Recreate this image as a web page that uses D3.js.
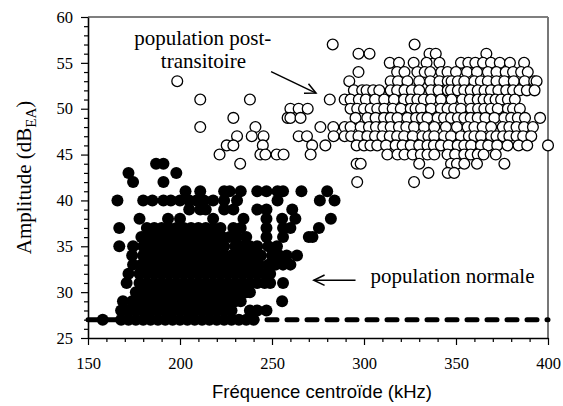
<!DOCTYPE html>
<html>
<head>
<meta charset="utf-8">
<script src="https://cdn.jsdelivr.net/npm/d3@7"></script>
<style>
  html, body { margin: 0; padding: 0; background: #fff; }
  svg { display: block; font-family: "Liberation Serif", "Times New Roman", serif; }
</style>
</head>
<body>
<svg id="chart" width="563" height="406"></svg>
<script>
// Axis ranges and tick values
const xDomain = [150, 400];
const yDomain = [25, 60];
const xMajorTicks = [150, 200, 250, 300, 350, 400];
const yMajorTicks = [25, 30, 35, 40, 45, 50, 55, 60];

// Normal population: [centroid frequency (kHz), amplitude (dB EA)]
const normale = [
  [158,27],[168,27],[172,27],[176,27],[180,27],[184,27],[188,27],[192,27],[196,27],[200,27],[204,27],[208,27],[212,27],[216,27],[220,27],[224,27],[228,27],[232,27],[236,27],[240,27],
  [168,28],[172,28],[176,28],[180,28],[184,28],[188,28],[192,28],[196,28],[200,28],[204,28],[208,28],[212,28],[216,28],[220,28],[224,28],[228,28],[238,28],[242,28],[247,28],
  [169,29],[174,29],[178,29],[182,29],[186,29],[190,29],[194,29],[198,29],[202,29],[206,29],[210,29],[214,29],[218,29],[222,29],[226,29],[230,29],[233,29],[255.5,29],
  [176,30],[180,30],[184,30],[188,30],[192,30],[196,30],[200,30],[204,30],[208,30],[212,30],[216,30],[220,30],[224,30],[228,30],[232,30],[236,30],[238,30],
  [171,31],[178,31],[182,31],[186,31],[190,31],[194,31],[198,31],[202,31],[206,31],[210,31],[214,31],[218,31],[222,31],[226,31],[230,31],[234,31],[238,31],[242,31],[246,31],[249,31],[256,31],
  [172,32],[178,32],[182,32],[186,32],[190,32],[194,32],[198,32],[202,32],[206,32],[210,32],[214,32],[218,32],[222,32],[226,32],[230,32],[234,32],[238,32],[242,32],[246,32],[249,32],
  [174.5,33],[179,33],[183,33],[187,33],[191,33],[195,33],[199,33],[203,33],[207,33],[211,33],[215,33],[219,33],[223,33],[227,33],[231,33],[235,33],[239,33],[243,33],[248,33],[252,33],[256,33],[260,33],
  [174,34],[180,34],[184,34],[188,34],[192,34],[196,34],[200,34],[204,34],[208,34],[212,34],[216,34],[220,34],[224,34],[228,34],[232,34],[236,34],[240,34],[244,34],[250,34],[254,34],[258,34],[263.6,34],
  [167,35],[174.5,35],[180,35],[184,35],[188,35],[192,35],[196,35],[200,35],[204,35],[208,35],[212,35],[216,35],[220,35],[224,35],[230,35],[234,35],[238,35],[242,35],[248,35],[252.7,35],
  [179,36],[183,36],[187,36],[191,36],[195,36],[199,36],[203,36],[207,36],[211,36],[215,36],[219,36],[223,36],[227,36],[231,36],[236,36],[247,36],[256,36],[270,36],[272,36],
  [167,37],[182,37],[186,37],[190,37],[194,37],[198,37],[202,37],[206,37],[210,37],[214,37],[218,37],[222,37],[229,37],[233,37],[247,37],[256,37],[260,37],[275.5,37],
  [178,38],[193.5,38],[200,38],[218,38],[234.5,38],[247,38],[255.5,38],[262.7,38],[282,38],
  [205,39],[211,39],[214,39],[224,39],[229,39],[242,39],[247,39],[261,39],
  [166,40],[180,40],[185,40],[191,40],[195,40],[200,40],[205,40],[209,40],[213,40],[218,40],[224,40],[231,40],[253,40],[276,40],[284,40],
  [203,41],[211,41],[224,41],[227,41],[233,41],[242,41],[247,41],[253,41],[256,41],[266,41],[280,41],
  [174.5,42],[191,42],
  [172,43],[198,43],
  [187,44],[191,44]
];

// Post-transitional population: [centroid frequency (kHz), amplitude (dB EA)]
const postTransitoire = [
  [283,57],[327.5,57],
  [297,56],[303,56],[335.6,56],[339,56],[366.5,56],
  [314,55],[319,55],[327,55],[334,55],[341,55],[352.7,55],[356.7,55],[360.5,55],[364.7,55],[369,55],[373.8,55],[379.3,55],[387,55],
  [297,54],[318,54],[322,54],[329,54],[333,54],[336,54],[342,54],[345.4,54],[350,54],[356,54],[361.4,54],[367.3,54],[372,54],[377,54],[381,54],[385.4,54],[389,54],
  [198.5,53],[292,53],[314.5,53],[318.5,53],[323.6,53],[330,53],[336,53],[341,53],[345.5,53],[347.6,53],[351,53],[354.5,53],[360,53],[363.5,53],[367.3,53],[372,53],[376.3,53],[381.4,53],[387.3,53],[392.5,53],[393.8,53],
  [294.5,52],[299,52],[301.4,52],[305,52],[308.3,52],[314.5,52],[318,52],[322,52],[326,52],[330,52],[336.4,52],[340.5,52],[345.5,52],[347.3,52],[351,52],[354.5,52],[358,52],[361.8,52],[365.5,52],[369,52],[373,52],[377.3,52],[381,52],[384.5,52],[388.5,52],[392.7,52],
  [211,51],[238,51],[281.4,51],[289.5,51],[292.7,51],[297.2,51],[301,51],[306,51],[311,51],[316.3,51],[321.8,51],[325.5,51],[329,51],[332.5,51],[336.4,51],[341.8,51],[347.6,51],[353.4,51],[357.5,51],[361.8,51],[365,51],[368.2,51],[371.5,51],[374.5,51],[378.2,51],[382,51],
  [260,50],[264.5,50],[269.4,50],[292.7,50],[296.3,50],[300,50],[303.6,50],[307.2,50],[311,50],[315.6,50],[320,50],[325.4,50],[328,50],[331,50],[336.4,50],[341.8,50],[345.4,50],[349,50],[352.7,50],[358.2,50],[362,50],[365.4,50],[369,50],[372.7,50],[378.2,50],[381,50],[384.7,50],
  [229,49],[258.5,49],[260,49],[265.5,49],[295.4,49],[301.8,49],[306.3,49],[310.9,49],[314.5,49],[318.2,49],[323.6,49],[328.3,49],[331.5,49],[334.5,49],[340,49],[343.5,49],[347.3,49],[351,49],[354.5,49],[358,49],[361.8,49],[366,49],[370.9,49],[376.3,49],[380,49],[383.6,49],[387.5,49],[395.7,49],
  [211,48],[241,48],[276.3,48],[283.3,48],[289.5,48],[292.7,48],[298.2,48],[302.7,48],[306.5,48],[310.5,48],[314.5,48],[319,48],[323,48],[327.2,48],[332.7,48],[338.2,48],[344.5,48],[350.5,48],[356.3,48],[360,48],[364.5,48],[369.1,48],[375.4,48],[379,48],[382.9,48],[387,48],[391.8,48],
  [231,47],[239,47],[245.4,47],[264.5,47],[269,47],[283.5,47],[289.5,47],[293,47],[297,47],[301.8,47],[306,47],[310,47],[314,47],[318,47],[321.8,47],[326.5,47],[331.8,47],[335,47],[338.2,47],[343.6,47],[347.3,47],[352.7,47],[357,47],[360,47],[363.6,47],[369.1,47],[372,47],[375.6,47],[379,47],[382.9,47],[386.5,47],[390.9,47],
  [225.4,46],[229,46],[245,46],[271.8,46],[279,46],[296,46],[300,46],[303.5,46],[307.2,46],[312,46],[317.2,46],[321,46],[325.4,46],[330,46],[334.5,46],[338,46],[341.8,46],[346,46],[350.9,46],[354.5,46],[358.2,46],[363.6,46],[367.5,46],[372.4,46],[378,46],[384,46],[388.7,46],[400,46],
  [221.5,45],[243.7,45],[246.4,45],[252.5,45],[256.3,45],[271,45],[312.7,45],[318.2,45],[322,45],[326.5,45],[330.9,45],[334.5,45],[338.2,45],[345.4,45],[349.5,45],[354.5,45],[358,45],[361.8,45],[365,45],[371.6,45],
  [232.7,44],[296,44],[298.2,44],[330,44],[347.3,44],[350.5,44],[354.5,44],[361.4,44],[376.3,44],
  [335,43],[345.5,43],[349,43],
  [296.3,42],[327.2,42]
];

// Detection floor of the normal population
const seuil = 27;

const svg = d3.select("#chart");
const m = { left: 88, right: 548, top: 17, bottom: 338 };

const x = d3.scaleLinear().domain(xDomain).range([m.left, m.right]);
const y = d3.scaleLinear().domain(yDomain).range([m.bottom, m.top]);

// Frame: top and right edges
svg.append("line").attr("x1", m.left).attr("x2", m.right).attr("y1", m.top).attr("y2", m.top)
  .attr("stroke", "#000").attr("stroke-width", 1.2);
svg.append("line").attr("x1", m.right).attr("x2", m.right).attr("y1", m.top).attr("y2", m.bottom)
  .attr("stroke", "#777").attr("stroke-width", 2);

// Dashed floor line
svg.append("line")
  .attr("x1", x(xDomain[0])).attr("x2", x(xDomain[1]))
  .attr("y1", y(seuil)).attr("y2", y(seuil))
  .attr("stroke", "#000").attr("stroke-width", 5)
  .attr("stroke-linecap", "round")
  .attr("stroke-dasharray", "10,10").attr("stroke-dashoffset", 1);

// Post-transitional points (open circles)
svg.append("g").selectAll("circle").data(postTransitoire).join("circle")
  .attr("cx", d => x(d[0])).attr("cy", d => y(d[1])).attr("r", 5.4)
  .attr("fill", "#fff").attr("stroke", "#000").attr("stroke-width", 1.3);

// Normal population points (filled circles)
svg.append("g").selectAll("circle").data(normale).join("circle")
  .attr("cx", d => x(d[0])).attr("cy", d => y(d[1])).attr("r", 6)
  .attr("fill", "#000");

// Axes
const yMinor = d3.range(yDomain[0], yDomain[1] + 1, 1).filter(v => v % 5 !== 0);
const xMinor = d3.range(xDomain[0], xDomain[1] + 1, 10).filter(v => v % 50 !== 0);

const gy = svg.append("g").attr("transform", `translate(${m.left},0)`);
gy.call(d3.axisLeft(y).tickValues(yMajorTicks).tickSize(7).tickPadding(8).tickSizeOuter(0));
gy.append("g").call(d3.axisLeft(y).tickValues(yMinor).tickSize(4).tickFormat(""));

const gx = svg.append("g").attr("transform", `translate(0,${m.bottom})`);
gx.call(d3.axisBottom(x).tickValues(xMajorTicks).tickSize(7).tickPadding(12).tickSizeOuter(0));
gx.append("g").call(d3.axisBottom(x).tickValues(xMinor).tickSize(4).tickFormat(""));

svg.selectAll(".domain").attr("stroke", "#000").attr("stroke-width", 1.6);
svg.selectAll(".tick line").attr("stroke", "#000").attr("stroke-width", 1.2);
svg.selectAll(".tick text").attr("font-family", "Liberation Serif, serif").attr("font-size", 16.5).attr("fill", "#000");
gx.selectAll("g > .domain").filter((d, i) => i > 0).remove();
gy.selectAll("g > .domain").filter((d, i) => i > 0).remove();

// Axis titles
svg.append("text")
  .attr("x", (m.left + m.right) / 2 + 4).attr("y", 398)
  .attr("text-anchor", "middle").attr("font-size", 18.5)
  .attr("font-family", "Liberation Sans, Arial, sans-serif")
  .text("Fréquence centroïde (kHz)");

const yt = svg.append("text")
  .attr("transform", `translate(31,${(m.top + m.bottom) / 2}) rotate(-90)`)
  .attr("text-anchor", "middle").attr("font-size", 21);
yt.append("tspan").text("Amplitude (dB");
yt.append("tspan").attr("font-size", 15).attr("dy", 5).text("EA");
yt.append("tspan").attr("dy", -5).text(")");

// Annotations
function arrow(x1, y1, x2, y2) {
  const p1 = [x(x1), y(y1)], p2 = [x(x2), y(y2)];
  const a = Math.atan2(p2[1] - p1[1], p2[0] - p1[0]);
  const len = 12, spread = 0.45;
  svg.append("line").attr("x1", p1[0]).attr("y1", p1[1]).attr("x2", p2[0]).attr("y2", p2[1])
    .attr("stroke", "#000").attr("stroke-width", 1.5);
  const head = [a + Math.PI - spread, a + Math.PI + spread].map(t => [p2[0] + len * Math.cos(t), p2[1] + len * Math.sin(t)]);
  svg.append("path")
    .attr("d", `M${head[0][0]},${head[0][1]}L${p2[0]},${p2[1]}L${head[1][0]},${head[1][1]}`)
    .attr("fill", "none").attr("stroke", "#000").attr("stroke-width", 1.5);
}

// Two-line label for the post-transitional group
const postLabel = svg.append("text").attr("font-size", 21);
postLabel.append("tspan").attr("x", x(175.1)).attr("y", y(56.97)).text("population post-");
postLabel.append("tspan").attr("x", x(189.6)).attr("y", y(54.41)).text("transitoire");
arrow(249.5, 54.04, 273.9, 51.7);

svg.append("text").attr("x", x(303.6)).attr("y", y(31.03)).attr("font-size", 21).text("population normale");
arrow(295.4, 31.3, 272.7, 31.3);
</script>
</body>
</html>
